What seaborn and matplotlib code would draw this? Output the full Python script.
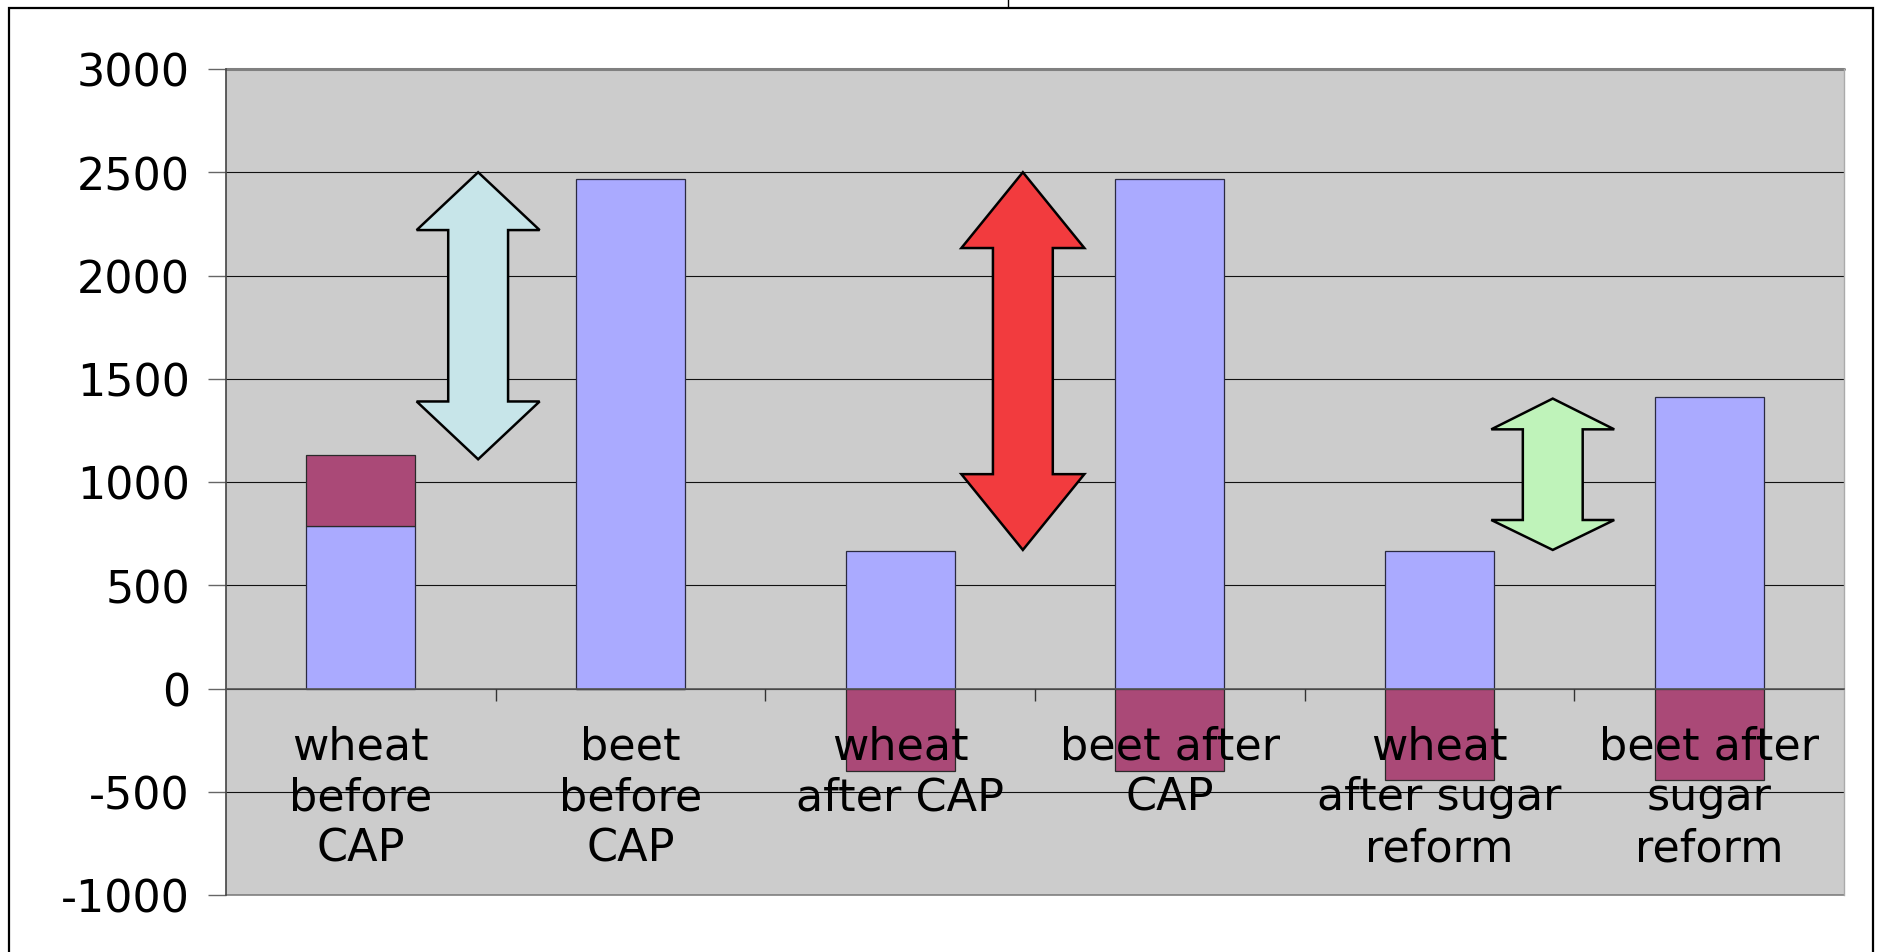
import matplotlib
matplotlib.use("Agg")
import matplotlib.pyplot as plt
import seaborn as sns
import numpy as np
import pandas as pd
from matplotlib.patches import Polygon, Rectangle
from matplotlib.lines import Line2D

# ---------------- data ----------------
categories = ["wheat before CAP", "beet before CAP", "wheat after CAP",
              "beet after CAP", "wheat after sugar reform", "beet after sugar reform"]
tick_labels = ["wheat\nbefore\nCAP", "beet\nbefore\nCAP", "wheat\nafter CAP",
               "beet after\nCAP", "wheat\nafter sugar\nreform", "beet after\nsugar\nreform"]
series_blue = [785, 2465, 665, 2465, 665, 1414]
series_maroon = [345, 0, -400, -400, -445, -445]
y_ticks = [-1000, -500, 0, 500, 1000, 1500, 2000, 2500, 3000]

# arrows: (x position in category units, bottom tip, lower shoulder, upper shoulder, top tip, colour)
arrow_x = [0.435, 2.455, 4.42]
arrow_bottom = [1110, 671, 671]
arrow_low_shoulder = [1390, 1038, 816]
arrow_up_shoulder = [2220, 2133, 1255]
arrow_top = [2500, 2500, 1404]
arrow_colors = ["#C7E5E9", "#F23B3E", "#BFF3BA"]

BLUE = "#AAAAFF"
MAROON = "#AA4977"
BG = "#CCCCCC"

sns.set_theme(style="white")
plt.rcParams["font.family"] = ["DejaVu Sans"]

W, H = 1881, 953
fig = plt.figure(figsize=(W / 100, H / 100), dpi=100)
fig.patch.set_facecolor("white")
ax = fig.add_axes([226 / W, 1 - 896 / H, (1844 - 226) / W, (896 - 70) / H])
ax.set_facecolor(BG)

df = pd.DataFrame({"category": categories, "blue": series_blue, "maroon": series_maroon})
maroon_base = np.where(np.array(series_maroon) > 0, np.array(series_blue), 0)

sns.barplot(data=df, x="category", y="blue", color=BLUE, width=0.405,
            edgecolor="#2a2a40", linewidth=0.9, saturation=1, errorbar=None,
            ax=ax, zorder=3)
sns.barplot(data=df, x="category", y="maroon", color=MAROON, width=0.405,
            edgecolor="#2a2a2a", linewidth=0.9, saturation=1, errorbar=None,
            bottom=maroon_base, ax=ax, zorder=3)

ax.set_xlim(-0.5, len(categories) - 0.5)
ax.set_ylim(-1000, 3000)
ax.set_yticks(y_ticks)
ax.set_yticklabels([str(v) for v in y_ticks])
ax.set_xlabel("")
ax.set_ylabel("")

# gridlines
ax.yaxis.grid(True, color="#111111", linewidth=0.8, zorder=0)
ax.set_axisbelow(True)
ax.xaxis.grid(False)
ax.xaxis.set_zorder(6)

# spines
ax.spines["top"].set_visible(False)
ax.spines["right"].set_color("#AAAAAA")
ax.spines["right"].set_linewidth(1.0)
ax.spines["left"].set_color("#444444")
ax.spines["left"].set_linewidth(1.2)
ax.spines["bottom"].set_position(("data", 0))
ax.spines["bottom"].set_color("#555555")
ax.spines["bottom"].set_linewidth(1.2)
ax.spines["bottom"].set_zorder(4)

# top and bottom border of plot area (gray)
ax.axhline(3000, color="#808080", linewidth=2.2, zorder=2, clip_on=False)
ax.axhline(-1000, color="#808080", linewidth=1.2, zorder=2, clip_on=False)

# ticks
ax.set_xticks(range(len(categories)))
ax.set_xticklabels(tick_labels, fontsize=32, linespacing=1.23, color="black")
ax.set_xticks(np.arange(0.5, len(categories) - 0.5, 1.0), minor=True)
ax.tick_params(axis="x", which="major", length=0, pad=26)
ax.tick_params(axis="x", which="minor", length=8.5, width=1.0, color="#333333",
               direction="out", bottom=True)
ax.tick_params(axis="y", which="major", length=13, width=1.0, color="#666666",
               direction="out", pad=13, labelsize=32, labelcolor="black", left=True)

# double-headed block arrows
head_w = 0.456
shaft_w = 0.222
for xc, yb, ys1, ys2, yt, col in zip(arrow_x, arrow_bottom, arrow_low_shoulder,
                                     arrow_up_shoulder, arrow_top, arrow_colors):
    verts = [
        (xc, yt), (xc + head_w / 2, ys2), (xc + shaft_w / 2, ys2),
        (xc + shaft_w / 2, ys1), (xc + head_w / 2, ys1), (xc, yb),
        (xc - head_w / 2, ys1), (xc - shaft_w / 2, ys1), (xc - shaft_w / 2, ys2),
        (xc - head_w / 2, ys2),
    ]
    ax.add_patch(Polygon(verts, closed=True, facecolor=col, edgecolor="black",
                         linewidth=1.8, joinstyle="miter", zorder=5))

# outer frame
fig.patches.append(Rectangle((9 / W, -0.2), (1873 - 9) / W, 1.2 - 9 / H,
                             transform=fig.transFigure, fill=False,
                             edgecolor="black", linewidth=1.6))
fig.lines.append(Line2D([1008 / W, 1008 / W], [1 - 8 / H, 1.0],
                        transform=fig.transFigure, color="black", linewidth=1.0))

fig.savefig("out.png", dpi=100, facecolor="white")
